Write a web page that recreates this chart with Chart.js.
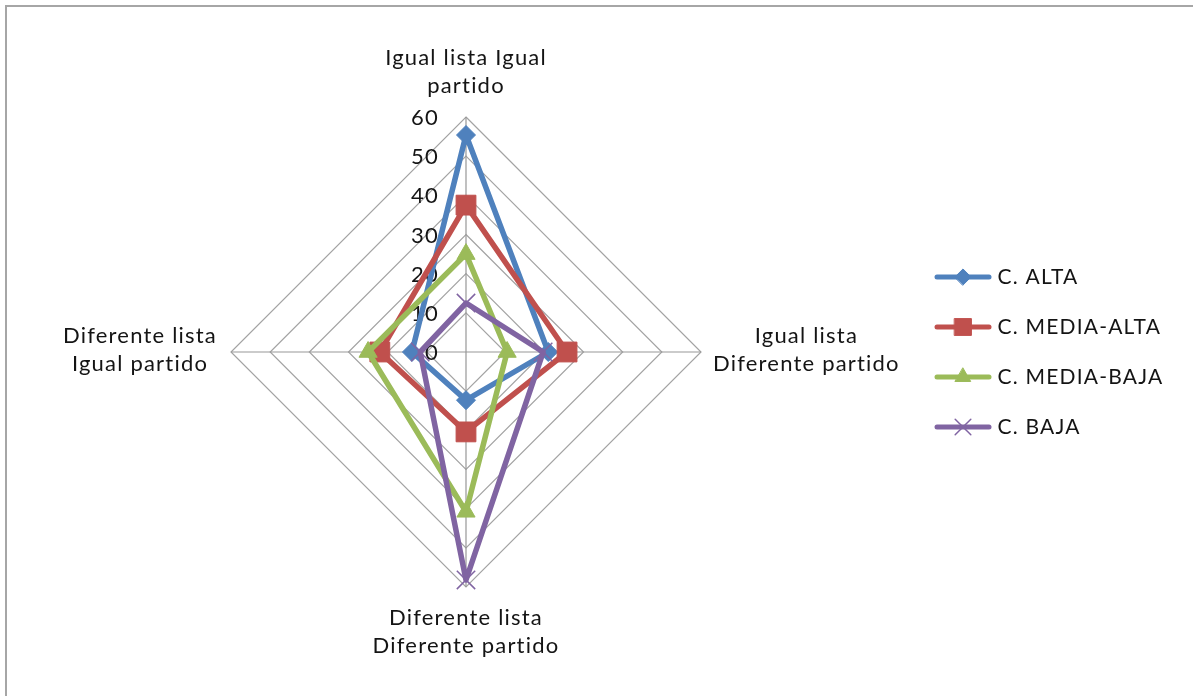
<!DOCTYPE html>
<html>
<head>
<meta charset="utf-8">
<script src="https://cdn.jsdelivr.net/npm/chart.js@4/dist/chart.umd.min.js"></script>
<style>
  html, body { margin: 0; padding: 0; background: #ffffff; overflow: hidden; }
  #frame { position: absolute; left: 5px; top: 5px; width: 1210px; height: 710px;
           border: 2px solid #a6a6a6; box-sizing: border-box; }
  #chart { position: absolute; left: 0; top: 0; }
</style>
</head>
<body>
<div id="frame"></div>
<canvas id="chart" width="1193" height="696"></canvas>
<script>
// Axis categories (clockwise from the top), each split into its display lines
const categories = [
  ["Igual lista Igual", "partido"],
  ["Igual lista", "Diferente partido"],
  ["Diferente lista", "Diferente partido"],
  ["Diferente lista", "Igual partido"]
];

// Series names
const seriesNames = ["C. ALTA", "C. MEDIA-ALTA", "C. MEDIA-BAJA", "C. BAJA"];

// Series values, in category order
const altaValues      = [55.4, 21.0, 12.3, 13.8];
const mediaAltaValues = [37.5, 25.8, 20.4, 22.0];
const mediaBajaValues = [25.0, 10.5, 40.8, 25.0];
const bajaValues      = [12.5, 19.7, 58.2, 11.7];

// Radial axis range and tick step
const axisMin = 0;
const axisMax = 60;
const axisStep = 10;

// Look
const FONT = "Lato";
const TEXT_COLOR = "#141414";
const GRID_COLOR = "#a3a3a3";
const LABEL_SIZE = 22;
const LEGEND_SIZE = 21;
const LEGEND_GAP = 29;
const LETTER_SPACING = "1.2px";
const colors = ["#4F81BD", "#C0504D", "#9BBB59", "#8064A2"];
const markers = [
  { style: "rectRot",  radius: 9.5, border: 1 },
  { style: "rect",     radius: 14,  border: 1 },
  { style: "triangle", radius: 10.5, border: 1 },
  { style: "crossRot", radius: 13,  border: 1.5 }
];

Chart.defaults.font.family = FONT;
Chart.defaults.color = TEXT_COLOR;

const valueSets = [altaValues, mediaAltaValues, mediaBajaValues, bajaValues];

const datasets = seriesNames.map((name, i) => ({
  label: name,
  data: valueSets[i],
  borderColor: colors[i],
  backgroundColor: colors[i],
  borderWidth: 5.5,
  borderJoinStyle: "round",
  borderCapStyle: "round",
  fill: false,
  pointStyle: markers[i].style,
  pointRadius: markers[i].radius,
  pointBorderWidth: markers[i].border,
  pointBackgroundColor: colors[i],
  pointBorderColor: colors[i],
  order: seriesNames.length - i
}));

// Legend icons: a short line with the series marker in its middle
const ICON_W = 58, ICON_H = 30;
function makeIcon(i) {
  const c = document.createElement("canvas");
  c.width = ICON_W; c.height = ICON_H;
  const g = c.getContext("2d");
  g.strokeStyle = colors[i];
  g.lineWidth = 5;
  g.lineCap = "round";
  g.beginPath();
  g.moveTo(3, ICON_H / 2);
  g.lineTo(ICON_W - 3, ICON_H / 2);
  g.stroke();
  g.fillStyle = colors[i];
  g.strokeStyle = colors[i];
  g.lineWidth = markers[i].border;
  Chart.helpers.drawPoint(g, { pointStyle: markers[i].style, radius: markers[i].radius * 0.85, rotation: 0, borderWidth: markers[i].border }, ICON_W / 2, ICON_H / 2);
  return c;
}
const legendIcons = seriesNames.map((_, i) => makeIcon(i));

// Widest legend entry, used to keep the legend tight against the plot
const measure = document.createElement("canvas").getContext("2d");
measure.font = LEGEND_SIZE + "px " + FONT;
measure.letterSpacing = LETTER_SPACING;
const widestName = Math.max(...seriesNames.map(s => measure.measureText(s).width));
const legendBoxW = 48;
const legendWidth = LEGEND_GAP + legendBoxW + LEGEND_SIZE / 2 + widestName + 10;
const plotLeft = 22;
const plotRight = 910;

// Slightly open letter spacing for all canvas text
const spacing = {
  id: "spacing",
  beforeUpdate(chart) { chart.ctx.letterSpacing = LETTER_SPACING; },
  beforeDraw(chart) { chart.ctx.letterSpacing = LETTER_SPACING; }
};

// Category captions and value ticks, placed from the radial scale
const axisText = {
  id: "axisText",
  beforeDatasetsDraw(chart) {
    const s = chart.scales.r;
    const ctx = chart.ctx;
    ctx.save();
    ctx.letterSpacing = LETTER_SPACING;
    ctx.fillStyle = TEXT_COLOR;
    ctx.font = LABEL_SIZE + "px " + FONT;

    // value ticks, to the left of the vertical axis
    ctx.textAlign = "right";
    ctx.textBaseline = "middle";
    s.ticks.forEach(t => {
      const y = s.yCenter - s.getDistanceFromCenterForValue(t.value);
      ctx.fillText(String(t.value), s.xCenter - 27, y + 1);
    });

    // category captions
    const LH = 28;
    ctx.textBaseline = "alphabetic";
    ctx.textAlign = "center";
    chart.data.labels.forEach((lines, i) => {
      const p = s.getPointPosition(i, s.drawingArea);
      const dx = Math.sign(Math.round(p.x - s.xCenter));
      const dy = Math.sign(Math.round(p.y - s.yCenter));
      const blockW = Math.max(...lines.map(l => ctx.measureText(l).width));
      lines.forEach((line, k) => {
        let x = p.x, y;
        if (dy < 0) {
          y = p.y - 24 - (lines.length - 1 - k) * LH;
        } else if (dy > 0) {
          y = p.y + 38 + k * LH;
        } else if (dx > 0) {
          x = p.x + 12 + blockW / 2;
          y = p.y - 9 + k * LH;
        } else {
          x = p.x - 14 - blockW / 2;
          y = p.y - 9 + k * LH;
        }
        ctx.fillText(line, x, y);
      });
    });
    ctx.restore();
  }
};

new Chart(document.getElementById("chart"), {
  type: "radar",
  data: { labels: categories, datasets: datasets },
  options: {
    responsive: false,
    animation: false,
    layout: {
      padding: { left: plotLeft, top: 117, bottom: 109, right: 1193 - plotRight - legendWidth }
    },
    elements: { line: { tension: 0 } },
    scales: {
      r: {
        min: axisMin,
        max: axisMax,
        beginAtZero: true,
        ticks: { stepSize: axisStep, display: false },
        pointLabels: { display: false },
        grid: { color: GRID_COLOR, lineWidth: 1.2 },
        angleLines: { color: "#979797", lineWidth: 1.2 }
      }
    },
    plugins: {
      tooltip: { enabled: false },
      legend: {
        position: "right",
        labels: {
          usePointStyle: true,
          pointStyleWidth: legendBoxW,
          padding: LEGEND_GAP,
          color: TEXT_COLOR,
          font: { size: LEGEND_SIZE, family: FONT },
          generateLabels: (chart) => chart.data.datasets.map((ds, i) => ({
            text: ds.label,
            pointStyle: legendIcons[i],
            fillStyle: ds.borderColor,
            strokeStyle: ds.borderColor,
            fontColor: TEXT_COLOR,
            lineWidth: 0,
            hidden: false,
            datasetIndex: i
          }))
        }
      }
    }
  },
  plugins: [spacing, axisText]
});
</script>
</body>
</html>
